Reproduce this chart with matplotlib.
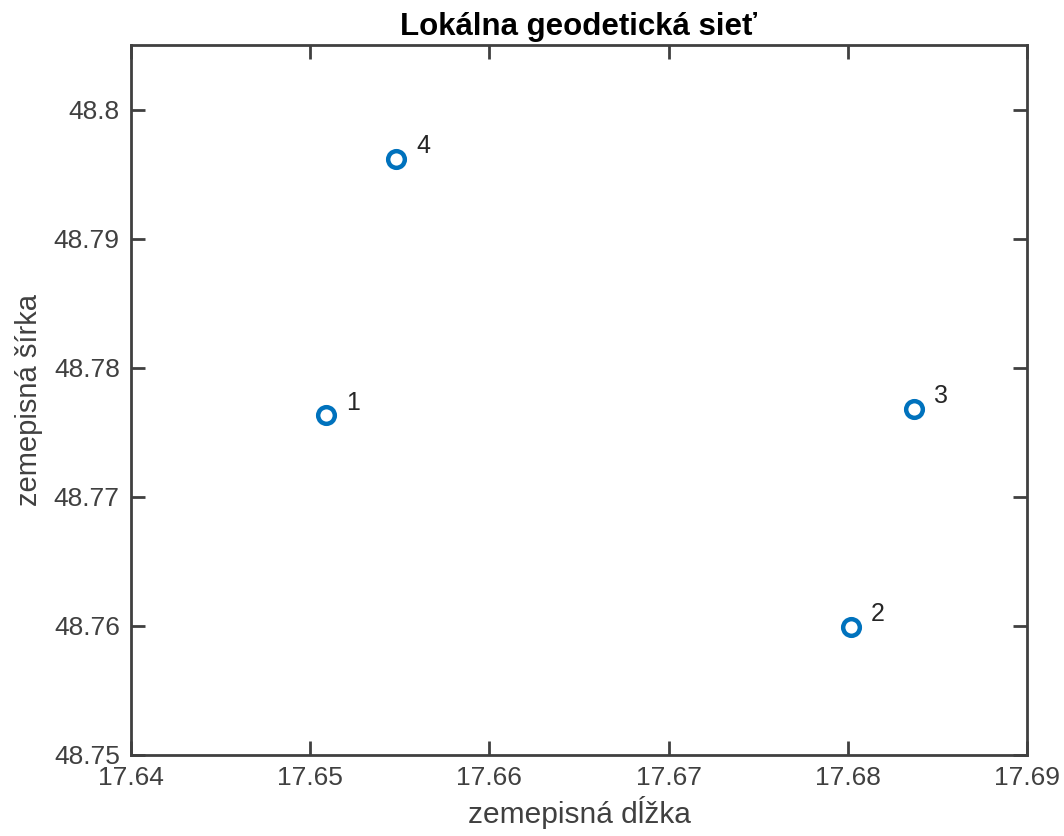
import matplotlib
matplotlib.use('Agg')
import matplotlib.pyplot as plt

# body sieti
lon = [17.6509, 17.6802, 17.6837, 17.6548]
lat = [48.7763, 48.7599, 48.7768, 48.7962]
names = ['1', '2', '3', '4']

xticks = [17.64, 17.65, 17.66, 17.67, 17.68, 17.69]
yticks = [48.75, 48.76, 48.77, 48.78, 48.79, 48.80]

plt.rcParams['font.family'] = ['Liberation Sans', 'DejaVu Sans']

fig = plt.figure(figsize=(10.64, 8.36), dpi=100)
ax = fig.add_axes([0.1231, 0.0969, 0.8421, 0.8493])

ax.plot(lon, lat, 'o', color='#0072BD', markerfacecolor='none',
        markersize=12, markeredgewidth=3.2)
for x, y, n in zip(lon, lat, names):
    ax.text(x + 0.0011, y + 0.001, n, fontsize=18, color='#262626',
            va='center', ha='left')

ax.set_xlim(17.64, 17.69)
ax.set_ylim(48.75, 48.805)
ax.set_xticks(xticks)
ax.set_xticklabels(['17.64', '17.65', '17.66', '17.67', '17.68', '17.69'])
ax.set_yticks(yticks)
ax.set_yticklabels(['48.75', '48.76', '48.77', '48.78', '48.79', '48.8'])

for s in ax.spines.values():
    s.set_linewidth(2)
    s.set_color('#404040')
ax.tick_params(direction='in', length=10, width=2, color='#404040',
               labelsize=19, labelcolor='#404040', top=True, right=True, pad=8)

ax.set_xlabel('zemepisná dĺžka', fontsize=21.5, color='#404040', labelpad=4)
ax.set_ylabel('zemepisná šírka', fontsize=21, color='#404040', labelpad=8)
ax.set_title('Lokálna geodetická sieť', fontsize=22.5, fontweight='bold', pad=7)

fig.savefig('out.png', dpi=100)
